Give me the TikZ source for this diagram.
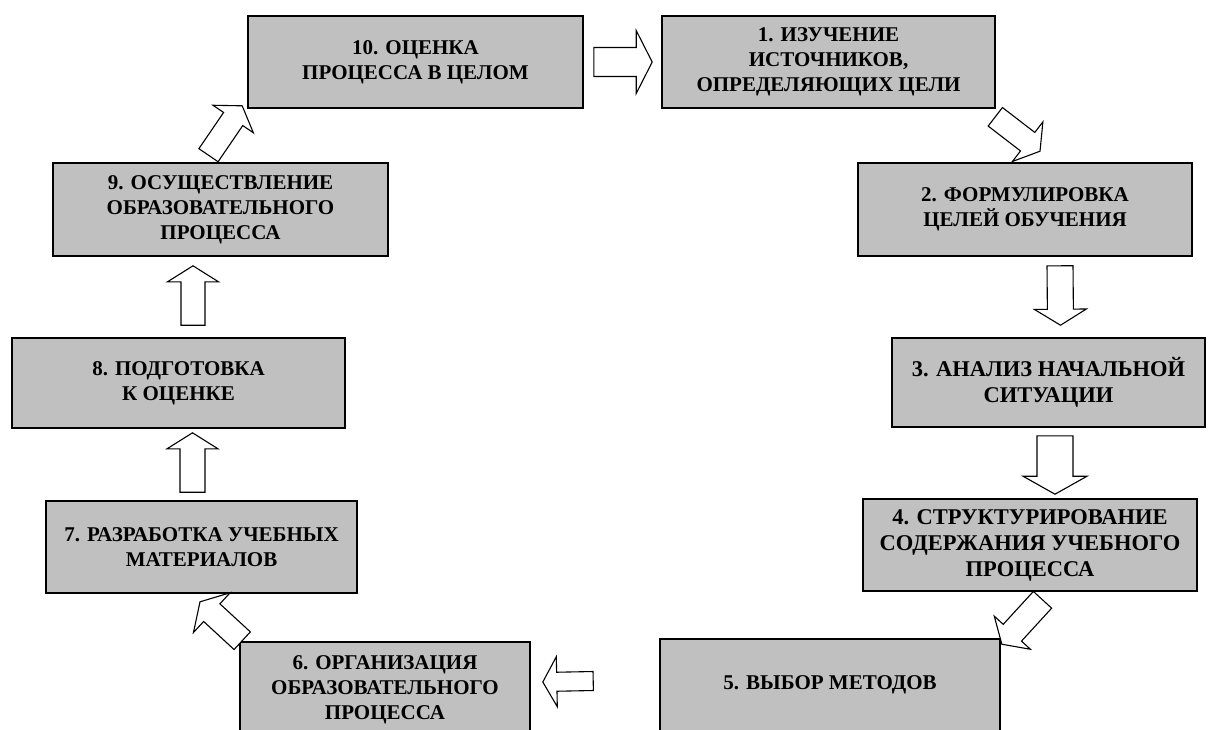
\documentclass[tikz,border=0pt]{standalone}
\usepackage{fontspec}
\setmainfont{Liberation Serif}
\usepackage{tikz}
\usetikzlibrary{calc}
\definecolor{cqcqcq}{rgb}{0.7529,0.7529,0.7529}
\tikzstyle{every node}=[font=\bfseries\fontsize{21}{25}\selectfont]
\tikzstyle{etap}=[draw=black,line width=1.6pt,fill=cqcqcq,align=center,inner sep=0pt]
\tikzstyle{krupno}=[font=\bfseries\fontsize{22.5}{26}\selectfont]
\tikzstyle{strelka}=[draw=black,line width=1.1pt,fill=white,line join=miter]
% block arrow: tail, tip, half shaft, half head, head length
\newcommand{\blokstrelka}[5]{%
  \coordinate (hb) at ($(#2)!#5!(#1)$);
  \draw[strelka] ($(#1)!#3!90:(#2)$) -- ($(hb)!#3!90:(#2)$) -- ($(hb)!#4!90:(#2)$) -- (#2)
    -- ($(hb)!#4!-90:(#2)$) -- ($(hb)!#3!-90:(#2)$) -- ($(#1)!#3!-90:(#2)$) -- cycle;}

\begin{document}
\begin{tikzpicture}[line cap=round,x=1pt,y=-1pt]
            \clip(0,0) rectangle (1214,729);
            \fill[white] (0,0) rectangle (1214,729);
            \node[etap,minimum width=335,minimum height=92] (b10) at (415.5,62) {10. ОЦЕНКА\\ПРОЦЕССА В ЦЕЛОМ};
            \node[etap,minimum width=333,minimum height=92] (b1) at (828.5,62) {1. ИЗУЧЕНИЕ\\ИСТОЧНИКОВ,\\ОПРЕДЕЛЯЮЩИХ ЦЕЛИ};
            \node[etap,minimum width=334,minimum height=93] (b2) at (1025,209.5) {2. ФОРМУЛИРОВКА\\ЦЕЛЕЙ ОБУЧЕНИЯ};
            \node[etap,krupno,minimum width=313,minimum height=89] (b3) at (1048.5,382.5) {3. АНАЛИЗ НАЧАЛЬНОЙ\\СИТУАЦИИ};
            \node[etap,krupno,minimum width=334,minimum height=92] (b4) at (1030,545) {4. СТРУКТУРИРОВАНИЕ\\СОДЕРЖАНИЯ УЧЕБНОГО\\ПРОЦЕССА};
            \node[etap,minimum width=340,minimum height=92] (b5) at (830,685) {5. ВЫБОР МЕТОДОВ};
            \node[etap,minimum width=290,minimum height=96] (b6) at (385,690) {6. ОРГАНИЗАЦИЯ\\ОБРАЗОВАТЕЛЬНОГО\\ПРОЦЕССА};
            \node[etap,minimum width=311,minimum height=92] (b7) at (201.5,547) {7. РАЗРАБОТКА УЧЕБНЫХ\\МАТЕРИАЛОВ};
            \node[etap,minimum width=333,minimum height=90] (b8) at (178.5,383) {8. ПОДГОТОВКА\\К ОЦЕНКЕ};
            \node[etap,minimum width=335,minimum height=93] (b9) at (220.5,209.5) {9. ОСУЩЕСТВЛЕНИЕ\\ОБРАЗОВАТЕЛЬНОГО\\ПРОЦЕССА};
            % arrow ends
            \coordinate (s1) at ($(b10.east)+(10,0)$);
            \coordinate (e1) at ($(b1.west)+(-9,0)$);
            \coordinate (s2) at ($(b1.south east)+(-0.5,8)$);
            \coordinate (e2) at ($(b2.north)+(15,-11)$);
            \coordinate (s3) at ($(b2.south)+(35,9)$);
            \coordinate (e3) at ($(b3.north)+(12,-12)$);
            \coordinate (s4) at ($(b3.south)+(6.5,8)$);
            \coordinate (e4) at ($(b4.north)+(25,-4)$);
            \coordinate (s5) at ($(b4.south)+(12.5,8)$);
            \coordinate (e5) at ($(b5.north east)+(1,6)$);
            \coordinate (s6) at ($(b5.west)+(-66,-4)$);
            \coordinate (e6) at ($(b6.east)+(12,-8)$);
            \coordinate (s7) at ($(b6.north west)+(3,-0.5)$);
            \coordinate (e7) at ($(b7.south)+(-1.5,8)$);
            \coordinate (s8) at ($(b7.north)+(-9,-8)$);
            \coordinate (e8) at ($(b8.south)+(14,4)$);
            \coordinate (s9) at ($(b8.north)+(14.5,-12)$);
            \coordinate (e9) at ($(b9.south)+(-27.5,9)$);
            \coordinate (s10) at ($(b9.north)+(-12,-7)$);
            \coordinate (e10) at ($(b10.south west)+(-5,-3)$);
            \blokstrelka{s1}{e1}{14.5pt}{31.5pt}{16pt}
            \blokstrelka{s2}{e2}{11.7pt}{25pt}{15.6pt}
            \blokstrelka{s3}{e3}{13pt}{26pt}{16pt}
            \blokstrelka{s4}{e4}{18pt}{32pt}{18pt}
            \blokstrelka{s5}{e5}{12.4pt}{24.5pt}{15.6pt}
            \blokstrelka{s6}{e6}{9.5pt}{25pt}{14pt}
            \blokstrelka{s7}{e7}{12pt}{27pt}{16pt}
            \blokstrelka{s8}{e8}{12.5pt}{25.5pt}{16pt}
            \blokstrelka{s9}{e9}{12pt}{25.5pt}{16pt}
            \blokstrelka{s10}{e10}{11.6pt}{24.4pt}{16pt}
            \end{tikzpicture}
\end{document}
